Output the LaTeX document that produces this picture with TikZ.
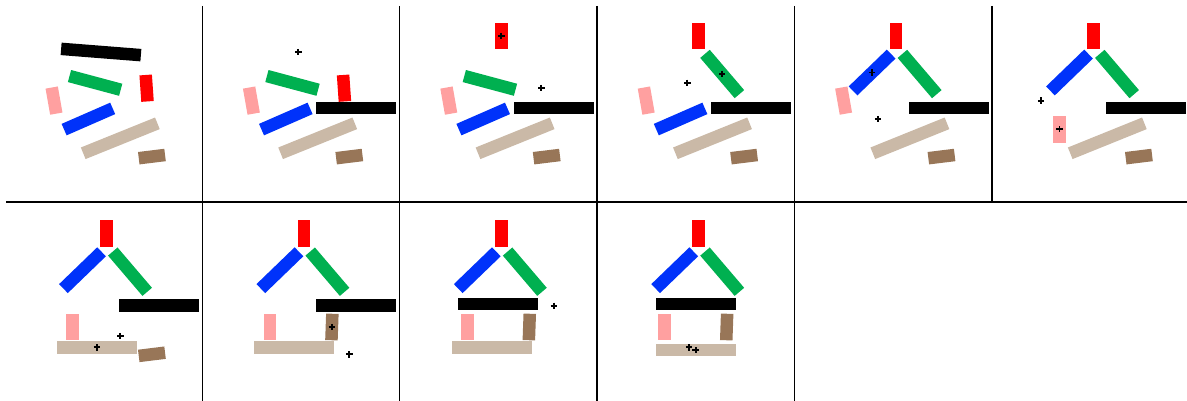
\documentclass[tikz,border=0pt]{standalone}
\usepackage{tikz}

\definecolor{redbrick}{RGB}{255,0,0}
\definecolor{greenbrick}{RGB}{0,176,80}
\definecolor{bluebrick}{RGB}{0,50,250}
\definecolor{pinkbrick}{RGB}{255,160,160}
\definecolor{tanbrick}{RGB}{202,185,167}
\definecolor{brownbrick}{RGB}{152,118,88}

\tikzset{
  brick/.style={rectangle, inner sep=0pt, minimum height=12.5pt},
  longbrick/.style={brick, minimum width=80pt},
  midbrick/.style={brick, minimum width=53pt},
  shortbrick/.style={brick, minimum width=12.5pt, minimum height=26.5pt},
  frame/.style={line width=1.3pt, black},
  plus/.pic={\draw[line width=1.9pt] (-3.2,0) -- (3.2,0) (0,-3.2) -- (0,3.2);}
}

\begin{document}
\begin{tikzpicture}[x=1pt, y=-1pt]
\useasboundingbox (0,0) rectangle (1187,401);

% Panel frames
\draw[frame] (6,202) -- (1187,202);
\foreach \k in {0,...,4} \draw[frame] (202.3+197.4*\k,6) -- (202.3+197.4*\k,202);
\foreach \k in {0,...,3} \draw[frame] (202.3+197.4*\k,202) -- (202.3+197.4*\k,401);

% Panel 1: scattered bricks
\begin{scope}
\node[longbrick, fill=black, rotate=-4.5] (black1) at (101,52) {};
\node[midbrick, fill=greenbrick, rotate=-15] (green1) at (95.1,82.9) {};
\node[shortbrick, fill=redbrick, rotate=4] (red1) at (146.6,88.2) {};
\node[shortbrick, fill=pinkbrick, rotate=10] (pink1) at (54,100.6) {};
\node[midbrick, fill=bluebrick, rotate=23.6] (blue1) at (88.4,119) {};
\node[longbrick, fill=tanbrick, rotate=22] (tan1) at (120.3,138.3) {};
\node[shortbrick, fill=brownbrick, rotate=97] (brown1) at (151.9,156.6) {};
\end{scope}

% Panel 2: black moved
\begin{scope}[shift={(197.4,0)}]
\node[midbrick, fill=greenbrick, rotate=-15] (green2) at (95.1,82.9) {};
\node[shortbrick, fill=redbrick, rotate=4] (red2) at (146.6,88.2) {};
\node[shortbrick, fill=pinkbrick, rotate=10] (pink2) at (54,100.6) {};
\node[midbrick, fill=bluebrick, rotate=23.6] (blue2) at (88.4,119) {};
\node[longbrick, fill=tanbrick, rotate=22] (tan2) at (120.3,138.3) {};
\node[shortbrick, fill=brownbrick, rotate=97] (brown2) at (151.9,156.6) {};
\node[longbrick, fill=black] (black2) at (158.9,108) {};
\pic at (101,52) {plus};
\end{scope}

% Panel 3: red on top
\begin{scope}[shift={(394.8,0)}]
\node[midbrick, fill=greenbrick, rotate=-15] (green3) at (95.1,82.9) {};
\node[shortbrick, fill=pinkbrick, rotate=10] (pink3) at (54,100.6) {};
\node[midbrick, fill=bluebrick, rotate=23.6] (blue3) at (88.4,119) {};
\node[longbrick, fill=tanbrick, rotate=22] (tan3) at (120.3,138.3) {};
\node[shortbrick, fill=brownbrick, rotate=97] (brown3) at (151.9,156.6) {};
\node[longbrick, fill=black] (black3) at (158.9,108) {};
\node[shortbrick, fill=redbrick] (red3) at (106.5,35.8) {};
\pic at (146.6,88.2) {plus};
\pic at (106.5,35.8) {plus};
\end{scope}

% Panel 4: green roof
\begin{scope}[shift={(592.2,0)}]
\node[shortbrick, fill=pinkbrick, rotate=10] (pink4) at (54,100.6) {};
\node[midbrick, fill=bluebrick, rotate=23.6] (blue4) at (88.4,119) {};
\node[longbrick, fill=tanbrick, rotate=22] (tan4) at (120.3,138.3) {};
\node[shortbrick, fill=brownbrick, rotate=97] (brown4) at (151.9,156.6) {};
\node[longbrick, fill=black] (black4) at (158.9,108) {};
\node[shortbrick, fill=redbrick] (red4) at (106.5,35.8) {};
\node[midbrick, fill=greenbrick, rotate=-49.5] (green4) at (130,74) {};
\pic at (95.1,82.9) {plus};
\pic at (130,74) {plus};
\end{scope}

% Panel 5: blue roof
\begin{scope}[shift={(789.6,0)}]
\node[shortbrick, fill=pinkbrick, rotate=10] (pink5) at (54,100.6) {};
\node[longbrick, fill=tanbrick, rotate=22] (tan5) at (120.3,138.3) {};
\node[shortbrick, fill=brownbrick, rotate=97] (brown5) at (151.9,156.6) {};
\node[longbrick, fill=black] (black5) at (158.9,108) {};
\node[shortbrick, fill=redbrick] (red5) at (106.5,35.8) {};
\node[midbrick, fill=greenbrick, rotate=-49.5] (green5) at (130,74) {};
\node[midbrick, fill=bluebrick, rotate=44] (blue5) at (82.5,72.5) {};
\pic at (88.4,119) {plus};
\pic at (82.5,72.5) {plus};
\end{scope}

% Panel 6: pink post
\begin{scope}[shift={(987,0)}]
\node[longbrick, fill=tanbrick, rotate=22] (tan6) at (120.3,138.3) {};
\node[shortbrick, fill=brownbrick, rotate=97] (brown6) at (151.9,156.6) {};
\node[longbrick, fill=black] (black6) at (158.9,108) {};
\node[shortbrick, fill=redbrick] (red6) at (106.5,35.8) {};
\node[midbrick, fill=greenbrick, rotate=-49.5] (green6) at (130,74) {};
\node[midbrick, fill=bluebrick, rotate=44] (blue6) at (82.5,72.5) {};
\node[shortbrick, fill=pinkbrick] (pink6) at (72.5,129.3) {};
\pic at (54,100.6) {plus};
\pic at (72.5,129.3) {plus};
\end{scope}

% Panel 7: tan base
\begin{scope}[shift={(0,197.7)}]
\node[shortbrick, fill=brownbrick, rotate=97] (brown7) at (151.9,156.6) {};
\node[longbrick, fill=black] (black7) at (158.9,108) {};
\node[shortbrick, fill=redbrick] (red7) at (106.5,35.8) {};
\node[midbrick, fill=greenbrick, rotate=-49.5] (green7) at (130,74) {};
\node[midbrick, fill=bluebrick, rotate=44] (blue7) at (82.5,72.5) {};
\node[shortbrick, fill=pinkbrick] (pink7) at (72.5,129.3) {};
\node[longbrick, fill=tanbrick] (tan7) at (96.8,149.6) {};
\pic at (120.3,138.3) {plus};
\pic at (96.8,149.6) {plus};
\end{scope}

% Panel 8: brown post
\begin{scope}[shift={(197.4,197.7)}]
\node[longbrick, fill=black] (black8) at (158.9,108) {};
\node[shortbrick, fill=redbrick] (red8) at (106.5,35.8) {};
\node[midbrick, fill=greenbrick, rotate=-49.5] (green8) at (130,74) {};
\node[midbrick, fill=bluebrick, rotate=44] (blue8) at (82.5,72.5) {};
\node[shortbrick, fill=pinkbrick] (pink8) at (72.5,129.3) {};
\node[longbrick, fill=tanbrick] (tan8) at (96.8,149.6) {};
\node[shortbrick, fill=brownbrick, rotate=-2] (brown8) at (134.5,129.3) {};
\pic at (151.9,156.6) {plus};
\pic at (134.5,129.3) {plus};
\end{scope}

% Panel 9: black beam
\begin{scope}[shift={(394.8,197.7)}]
\node[shortbrick, fill=redbrick] (red9) at (106.5,35.8) {};
\node[midbrick, fill=greenbrick, rotate=-49.5] (green9) at (130,74) {};
\node[midbrick, fill=bluebrick, rotate=44] (blue9) at (82.5,72.5) {};
\node[shortbrick, fill=pinkbrick] (pink9) at (72.5,129.3) {};
\node[longbrick, fill=tanbrick] (tan9) at (96.8,149.6) {};
\node[shortbrick, fill=brownbrick, rotate=-2] (brown9) at (134.5,129.3) {};
\node[longbrick, fill=black] (black9) at (103.5,106.1) {};
\pic at (158.9,108) {plus};
\end{scope}

% Panel 10: base shifted
\begin{scope}[shift={(592.2,197.7)}]
\node[shortbrick, fill=redbrick] (red10) at (106.5,35.8) {};
\node[midbrick, fill=greenbrick, rotate=-49.5] (green10) at (130,74) {};
\node[midbrick, fill=bluebrick, rotate=44] (blue10) at (82.5,72.5) {};
\node[shortbrick, fill=pinkbrick] (pink10) at (72.5,129.3) {};
\node[shortbrick, fill=brownbrick, rotate=-2] (brown10) at (134.5,129.3) {};
\node[longbrick, fill=black] (black10) at (103.5,106.1) {};
\node[longbrick, fill=tanbrick] (tan10) at (103.4,152.5) {};
\pic at (96.8,149.6) {plus};
\pic at (103.4,152.5) {plus};
\end{scope}

\end{tikzpicture}
\end{document}
